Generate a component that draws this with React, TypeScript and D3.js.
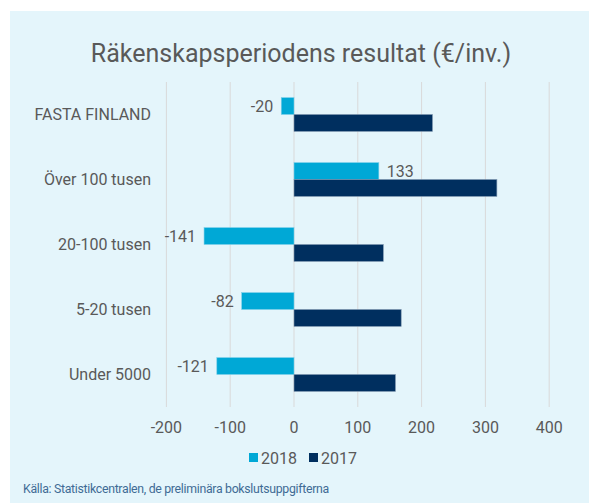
import React, { useEffect, useRef } from "react";
import * as d3 from "d3";

const categories = ["FASTA FINLAND", "Över 100 tusen", "20-100 tusen", "5-20 tusen", "Under 5000"];
const series = ["2018", "2017"];
const values2018 = [-20, 133, -141, -82, -121];
const values2017 = [217, 318, 140, 168, 159];
const xTicks = [-200, -100, 0, 100, 200, 300, 400];

const colors = ["#00a8d6", "#002f5f"];

const App = () => {
  const ref = useRef<SVGSVGElement>(null);

  useEffect(() => {
    const width = 589;
    const height = 503;
    const svg = d3.select(ref.current);
    svg.selectAll("*").remove();

    const font = "Roboto, 'Open Sans', sans-serif";
    const textColor = "#595959";
    const fs = 16;

    svg.append("rect")
      .attr("x", 10).attr("y", 11)
      .attr("width", width - 10).attr("height", height - 11)
      .attr("fill", "#e4f5fb");

    svg.append("text")
      .attr("x", 301).attr("y", 62)
      .attr("text-anchor", "middle")
      .attr("font-family", font)
      .attr("font-size", 25)
      .attr("fill", textColor)
      .text("Räkenskapsperiodens resultat (€/inv.)");

    const x = d3.scaleLinear().domain([-200, 400]).range([166.4, 549.2]);
    const y = d3.scaleBand().domain(categories).range([82, 407]).paddingInner(0.48).paddingOuter(0.24);
    const ys = d3.scaleBand().domain(series).range([0, y.bandwidth()]);

    // gridlines
    svg.append("g")
      .selectAll("line")
      .data(xTicks)
      .join("line")
      .attr("x1", (d) => x(d)).attr("x2", (d) => x(d))
      .attr("y1", 82).attr("y2", 407)
      .attr("stroke", "#d9d9d9")
      .attr("stroke-width", 1);

    // tick labels
    svg.append("g")
      .selectAll("text")
      .data(xTicks)
      .join("text")
      .attr("x", (d) => x(d))
      .attr("y", 427)
      .attr("dy", "0.35em")
      .attr("text-anchor", "middle")
      .attr("font-family", font)
      .attr("font-size", fs)
      .attr("fill", textColor)
      .text((d) => d);

    // category labels
    svg.append("g")
      .selectAll("text")
      .data(categories)
      .join("text")
      .attr("x", 151)
      .attr("y", (d) => y(d)! + y.bandwidth() / 2)
      .attr("dy", "0.35em")
      .attr("text-anchor", "end")
      .attr("font-family", font)
      .attr("font-size", fs)
      .attr("fill", textColor)
      .text((d) => d);

    const rows = categories.flatMap((c, i) => [
      { c, s: "2018", v: values2018[i] },
      { c, s: "2017", v: values2017[i] },
    ]);

    svg.append("g")
      .selectAll("rect")
      .data(rows)
      .join("rect")
      .attr("x", (d) => x(Math.min(0, d.v)))
      .attr("y", (d) => y(d.c)! + ys(d.s)!)
      .attr("width", (d) => Math.abs(x(d.v) - x(0)))
      .attr("height", ys.bandwidth())
      .attr("fill", (d) => (d.s === "2018" ? colors[0] : colors[1]))
      .attr("stroke", (d) => (d.s === "2018" ? "#7fd0ea" : "#7f97b0"))
      .attr("stroke-width", 0.6);

    // data labels for 2018
    svg.append("g")
      .selectAll("text")
      .data(rows.filter((d) => d.s === "2018"))
      .join("text")
      .attr("x", (d) => (d.v < 0 ? x(d.v) - 8 : x(d.v) + 8))
      .attr("y", (d) => y(d.c)! + ys(d.s)! + ys.bandwidth() / 2)
      .attr("dy", "0.35em")
      .attr("text-anchor", (d) => (d.v < 0 ? "end" : "start"))
      .attr("font-family", font)
      .attr("font-size", fs)
      .attr("fill", textColor)
      .text((d) => d.v);

    // legend
    const legend = svg.append("g").attr("transform", "translate(249,458)");
    series.forEach((s, i) => {
      const g = legend.append("g").attr("transform", `translate(${i * 60},0)`);
      g.append("rect").attr("x", 0).attr("y", -5).attr("width", 9).attr("height", 9).attr("fill", colors[i]);
      g.append("text")
        .attr("x", 12).attr("y", 0).attr("dy", "0.35em")
        .attr("font-family", font).attr("font-size", fs)
        .attr("fill", textColor)
        .text(s);
    });

    svg.append("text")
      .attr("x", 23).attr("y", 493)
      .attr("font-family", font)
      .attr("font-size", 12.3)
      .attr("letter-spacing", -0.3)
      .attr("fill", "#3f6b95")
      .text("Källa: Statistikcentralen, de preliminära bokslutsuppgifterna");
  }, []);

  return (
    <svg
      ref={ref}
      width={589}
      height={503}
      style={{ position: "absolute", left: 0, top: 0 }}
    />
  );
};

export default App;
